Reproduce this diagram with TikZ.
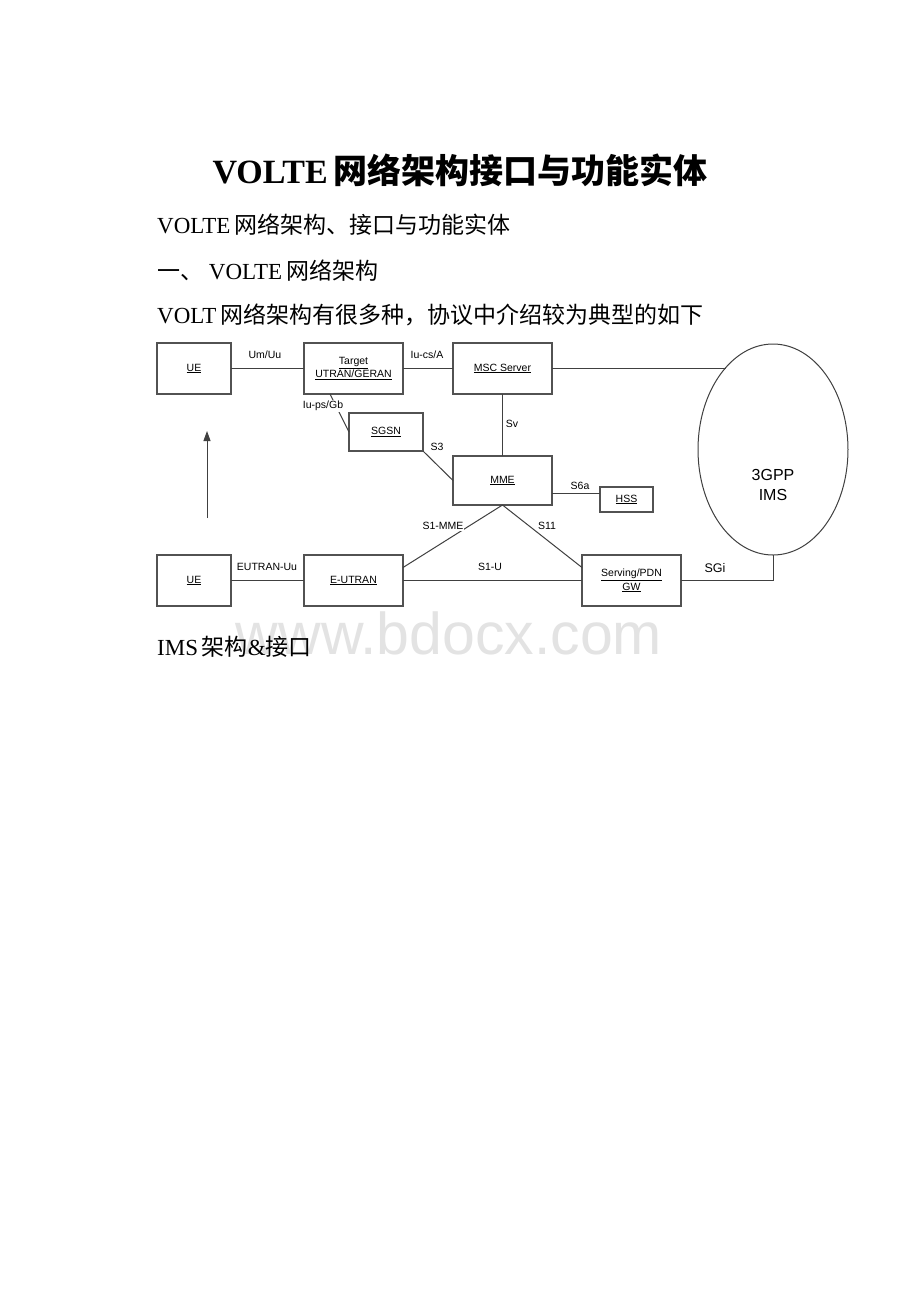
\documentclass[tikz,border=0pt]{standalone}
\usepackage{fontspec}
\setmainfont{Liberation Serif}
\newfontfamily\cjk{Noto Sans CJK SC}
\newfontfamily\arial{Liberation Sans}
\usetikzlibrary{shapes.geometric,arrows.meta,calc}
\begin{document}
\begin{tikzpicture}[x=1pt,y=-1pt,
  box/.style={draw=black!68, line width=1.4pt, fill=white, align=center, inner sep=0pt, outer sep=0pt,
    font=\arial\fontsize{10.5}{13.5}\selectfont},
  lbl/.style={inner sep=1pt, font=\arial\fontsize{10.5}{12}\selectfont},
  conn/.style={draw=black!75, line width=1pt},
  para/.style={anchor=west, inner sep=0pt, font=\fontsize{23}{27}\selectfont}]
\useasboundingbox (0,0) rectangle (920,1302);
\fill[white] (0,0) rectangle (920,1302);

% watermark (behind)
\node[inner sep=0pt, text=black!11, font=\arial\fontsize{59}{66}\selectfont] (wm) at (449,633) {www.bdocx.com};

% title and text
\node[inner sep=0pt, font=\bfseries\fontsize{34}{40}\selectfont] (title) at (460,170)
  {VOLTE\,{\cjk\bfseries 网络架构接口与功能实体}};
\node[para] (p1) at (157,225) {VOLTE\,{\cjk 网络架构、接口与功能实体}};
\node[para] (p2) at (157,271) {{\cjk 一、}\ VOLTE\,{\cjk 网络架构}};
\node[para] (p3) at (157,315) {VOLT\,{\cjk 网络架构有很多种，协议中介绍较为典型的如下}};
\node[para] (p4) at (157,647) {IMS\,{\cjk 架构}\&{\cjk 接口}};

% boxes
\node[box, minimum width=74, minimum height=51] (ue1) at (194,368.5) {\underline{UE}};
\node[box, minimum width=99, minimum height=51] (tgt) at (353.5,368.5) {\underline{Target}\\\underline{UTRAN/GERAN}};
\node[box, minimum width=99, minimum height=51] (msc) at (502.5,368.5) {\underline{MSC Server}};
\node[box, minimum width=74, minimum height=38] (sgsn) at (386,432) {\underline{SGSN}};
\node[box, minimum width=99, minimum height=49] (mme) at (502.5,480.5) {\underline{MME}};
\node[box, minimum width=53, minimum height=25] (hss) at (626.5,499.5) {\underline{HSS}};
\node[box, minimum width=74, minimum height=51] (ue2) at (194,580.5) {\underline{UE}};
\node[box, minimum width=99, minimum height=51] (eutran) at (353.5,580.5) {\underline{E-UTRAN}};
\node[box, minimum width=99, minimum height=51] (gw) at (631.5,580.5) {\underline{Serving/PDN}\\\underline{GW}};
\node[draw=black!75, line width=1pt, ellipse, minimum width=150, minimum height=211, inner sep=0pt, outer sep=0pt] (ims) at (773,449.5) {};
\node[align=center, inner sep=0pt, font=\arial\fontsize{16}{20}\selectfont] (imst) at (773,485) {3GPP\\IMS};

% connectors
\draw[conn] (ue1) -- (tgt);
\draw[conn] (tgt) -- (msc);
\draw[conn] (msc.east) -- (msc.east -| ims.120.5);
\draw[conn] (msc) -- (mme);
\coordinate (tgtb) at ($(tgt.south west)!0.263!(tgt.south east)$);
\draw[conn] (tgtb) -- (sgsn.west);
\draw[conn] (sgsn.south east) -- (mme.west);
\coordinate (s6h) at ([yshift=6.5pt]hss.west);
\draw[conn] (s6h -| mme.east) -- (s6h);
\draw[conn] (mme.south) -- ([yshift=-12.5pt]eutran.north east);
\draw[conn] (mme.south) -- ([yshift=-12.5pt]gw.north west);
\draw[conn] (ue2) -- (eutran);
\draw[conn] (eutran) -- (gw);
\draw[conn] (gw.east) -| (ims.south);
\coordinate (arb) at (207,518);
\coordinate (art) at (207,431);
\draw[conn, -{Triangle[length=10pt,width=7pt]}] (arb) -- (art);

% labels
\node[lbl] (l1) at (265,355) {Um/Uu};
\node[lbl] (l2) at (427,355) {Iu-cs/A};
\node[lbl, fill=white] (l3) at (323,406) {Iu-ps/Gb};
\node[lbl] (l4) at (512,424) {Sv};
\node[lbl] (l5) at (437,447) {S3};
\node[lbl] (l6) at (580,486) {S6a};
\node[lbl, fill=white] (l7) at (443,526) {S1-MME};
\node[lbl] (l8) at (547,526) {S11};
\node[lbl] (l9) at (267,567) {EUTRAN-Uu};
\node[lbl] (l10) at (490,567) {S1-U};
\node[lbl, font=\arial\fontsize{12.5}{14}\selectfont] (l11) at (715,568) {SGi};
\end{tikzpicture}
\end{document}
